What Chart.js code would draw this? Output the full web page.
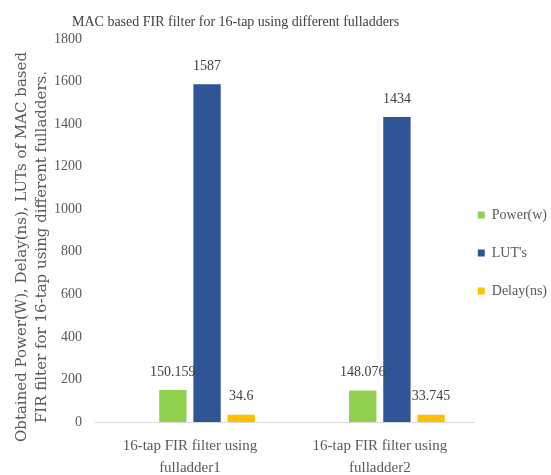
<!DOCTYPE html>
<html>
<head>
<meta charset="utf-8">
<script src="https://cdn.jsdelivr.net/npm/chart.js@4.4.1/dist/chart.umd.min.js"></script>
<style>
  html, body { margin: 0; padding: 0; background: #ffffff; }
  #wrap { width: 551px; height: 475px; }
</style>
</head>
<body>
<div id="wrap"><canvas id="chart" width="551" height="475"></canvas></div>
<script>
// Categories (two lines each) and series values
const categories = [
  ['16-tap FIR filter using', 'fulladder1'],
  ['16-tap FIR filter using', 'fulladder2']
];
const seriesNames = ['Power(w)', "LUT's", 'Delay(ns)'];
const powerValues = [150.159, 148.076];
const lutValues = [1587, 1434];
const delayValues = [34.6, 33.745];
const emptyValues = [null, null];
const yTicks = [0, 200, 400, 600, 800, 1000, 1200, 1400, 1600, 1800];

const chartTitle = 'MAC based FIR filter for 16-tap using different fulladders';
const yTitleLines = [
  'Obtained Power(W), Delay(ns), LUTs of MAC based',
  'FIR filter for 16-tap using different fulladders.'
];

const SERIF = '"Liberation Serif", "Times New Roman", serif';
const WIDE_SERIF = '"DejaVu Serif", Georgia, serif';

// Value labels above each bar
const valueLabels = {
  id: 'valueLabels',
  afterDatasetsDraw(chart) {
    const ctx = chart.ctx;
    ctx.save();
    ctx.font = '14px ' + SERIF;
    ctx.fillStyle = '#404040';
    ctx.textAlign = 'center';
    ctx.textBaseline = 'bottom';
    chart.data.datasets.forEach((ds, di) => {
      const meta = chart.getDatasetMeta(di);
      meta.data.forEach((el, i) => {
        const v = ds.data[i];
        if (v === null || v === undefined) return;
        ctx.fillText(String(v), el.x, el.y - 11);
      });
    });
    ctx.restore();
  }
};

// Chart title and two-line rotated y-axis title
const titles = {
  id: 'titles',
  afterDraw(chart) {
    const ctx = chart.ctx;
    const area = chart.chartArea;
    ctx.save();
    ctx.fillStyle = '#404040';
    ctx.font = '14px ' + SERIF;
    ctx.textAlign = 'left';
    ctx.textBaseline = 'middle';
    ctx.fillText(chartTitle, area.left - 23, 22);

    ctx.fillStyle = '#595959';
    ctx.font = '15px ' + WIDE_SERIF;
    ctx.textAlign = 'center';
    ctx.textBaseline = 'middle';
    const cy = 247;
    [22, 42].forEach((x, i) => {
      ctx.save();
      ctx.translate(x, cy);
      ctx.rotate(-Math.PI / 2);
      ctx.fillText(yTitleLines[i], 0, 0);
      ctx.restore();
    });
    ctx.restore();
  }
};

// Nudge the legend block so its entries sit just right of the plot
const legendNudge = {
  id: 'legendNudge',
  afterLayout(chart) {
    const lg = chart.legend;
    if (!lg) return;
    const dx = chart.chartArea.right + 3 - lg.left - lg.options.labels.padding;
    lg.left += dx; lg.right += dx;
    lg.top -= 4; lg.bottom -= 4;
  }
};

new Chart(document.getElementById('chart'), {
  type: 'bar',
  data: {
    labels: categories,
    datasets: [
      // leading empty series keeps the first slot of each group free
      { label: '', data: emptyValues, backgroundColor: 'rgba(0,0,0,0)' },
      { label: seriesNames[0], data: powerValues, backgroundColor: '#92D050' },
      { label: seriesNames[1], data: lutValues, backgroundColor: '#2F5597' },
      { label: seriesNames[2], data: delayValues, backgroundColor: '#FFC000' }
    ]
  },
  options: {
    responsive: false,
    animation: false,
    devicePixelRatio: 1,
    layout: { padding: { top: 39, left: 0, right: -27, bottom: 0 } },
    datasets: {
      bar: { categoryPercentage: 0.72, barPercentage: 0.8 }
    },
    plugins: {
      title: { display: false },
      tooltip: { enabled: false },
      legend: {
        display: true,
        position: 'right',
        labels: {
          filter: (item) => item.text !== '',
          boxWidth: 7,
          boxHeight: 7,
          padding: 24,
          color: '#595959',
          font: { family: SERIF, size: 14 }
        }
      }
    },
    scales: {
      x: {
        grid: { display: false, drawTicks: false },
        border: { display: true, color: '#D9D9D9', width: 1 },
        ticks: {
          color: '#595959',
          font: { family: SERIF, size: 15, lineHeight: 1.45 },
          padding: 13,
          maxRotation: 0,
          autoSkip: false
        },
        afterFit(scale) { scale.height = 53; }
      },
      y: {
        min: 0,
        max: 1800,
        afterBuildTicks(scale) { scale.ticks = yTicks.map(v => ({ value: v })); },
        grid: { display: false, drawTicks: false },
        border: { display: false },
        ticks: {
          color: '#595959',
          font: { family: SERIF, size: 14 },
          padding: 13,
          callback: (v) => String(v)
        },
        afterFit(scale) { scale.width = 95; }
      }
    }
  },
  plugins: [valueLabels, titles, legendNudge]
});
</script>
</body>
</html>
